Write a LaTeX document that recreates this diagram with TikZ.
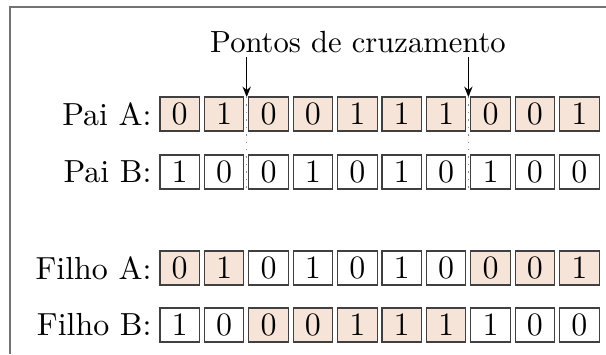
\documentclass[tikz,border=0pt]{standalone}
\usetikzlibrary{arrows.meta}
\definecolor{peach}{HTML}{F5E4D7}
\begin{document}
\begin{tikzpicture}[x=0.3367pt,y=-0.3367pt,
  bit/.style={draw=black!75,line width=0.4pt,minimum width=13.3pt,minimum height=11.45pt,inner sep=0pt,font=\fontsize{11}{13}\selectfont},
  pb/.style={bit,fill=peach},
  wb/.style={bit,fill=white},
  lab/.style={anchor=east,inner sep=0pt,font=\fontsize{10.75}{13}\selectfont},
  cut/.style={draw=black!45,dotted,line width=0.5pt},
  arr/.style={-{Stealth[length=3.5pt,width=2.8pt]},line width=0.5pt}]
\useasboundingbox (0,0) rectangle (606,354);
\draw[black!55,line width=0.5pt] (10,354) -- (10,7) -- (606,7);
\node[font=\fontsize{10.3}{12}\selectfont] (title) at (358,42) {Pontos de cruzamento};
\node[lab] (la) at (152,114) {Pai A:};
\node[lab] (lb) at (152,172) {Pai B:};
\node[lab] (lc) at (152,268) {Filho A:};
\node[lab] (ld) at (152,325) {Filho B:};
% Pai A
\foreach \i/\v in {1/0,2/1,3/0,4/0,5/1,6/1,7/1,8/0,9/0,10/1}
  \node[pb] (a\i) at ({179.75+(\i-1)*44.4},114) {\v};
% Pai B
\foreach \i/\v in {1/1,2/0,3/0,4/1,5/0,6/1,7/0,8/1,9/0,10/0}
  \node[wb] (b\i) at ({179.75+(\i-1)*44.4},172) {\v};
% Filho A
\foreach \i/\v/\s in {1/0/pb,2/1/pb,3/0/wb,4/1/wb,5/0/wb,6/1/wb,7/0/wb,8/0/pb,9/0/pb,10/1/pb}
  \node[\s] (c\i) at ({179.75+(\i-1)*44.4},268) {\v};
% Filho B
\foreach \i/\v/\s in {1/1/wb,2/0/wb,3/0/pb,4/0/pb,5/1/pb,6/1/pb,7/1/pb,8/1/wb,9/0/wb,10/0/wb}
  \node[\s] (d\i) at ({179.75+(\i-1)*44.4},325) {\v};
% crossover points
\coordinate (p1top) at (246.7,97);
\coordinate (p1bot) at (246.7,193);
\coordinate (p1s) at (246.7,57);
\coordinate (p2top) at (468.4,97);
\coordinate (p2bot) at (468.4,193);
\coordinate (p2s) at (468.4,57);
\draw[cut] (p1top) -- (p1bot);
\draw[cut] (p2top) -- (p2bot);
\draw[arr] (p1s) -- (p1top);
\draw[arr] (p2s) -- (p2top);
\end{tikzpicture}
\end{document}
